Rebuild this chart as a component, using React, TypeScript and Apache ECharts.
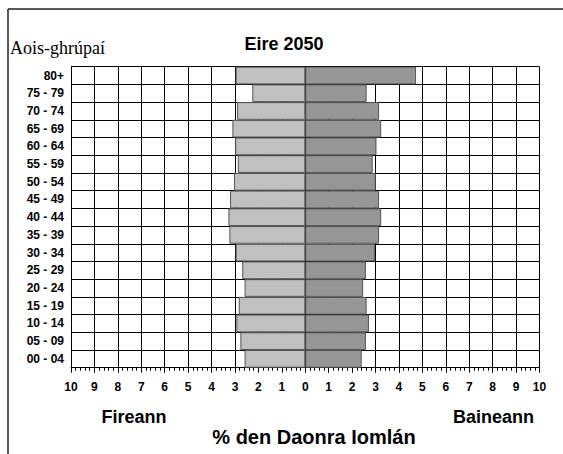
import React, { useEffect, useRef } from "react";
import * as echarts from "echarts";

const ageGroups = [
  "00 - 04", "05 - 09", "10 - 14", "15 - 19", "20 - 24", "25 - 29", "30 - 34",
  "35 - 39", "40 - 44", "45 - 49", "50 - 54", "55 - 59", "60 - 64", "65 - 69",
  "70 - 74", "75 - 79", "80+",
];
// % of total population, males (Fireann)
const male = [2.59, 2.77, 2.94, 2.84, 2.59, 2.69, 2.97, 3.24, 3.28, 3.21, 3.04, 2.88, 2.99, 3.11, 2.91, 2.26, 2.97];
// % of total population, females (Baineann)
const female = [2.41, 2.59, 2.72, 2.62, 2.47, 2.59, 2.97, 3.15, 3.24, 3.15, 3.01, 2.88, 3.04, 3.24, 3.15, 2.62, 4.73];

const SANS = "Arial, 'Liberation Sans', sans-serif";
const SERIF = "'Times New Roman', 'Liberation Serif', serif";

export default function App() {
  const ref = useRef<HTMLDivElement>(null);
  useEffect(() => {
    if (!ref.current) return;
    const chart = echarts.init(ref.current, undefined, { renderer: "svg" });
    chart.setOption({
      animation: false,
      backgroundColor: "#fff",
      grid: { left: 71, right: 23.5, top: 66.7, bottom: 86.3, containLabel: false },
      xAxis: {
        type: "value",
        min: -10,
        max: 10,
        interval: 1,
        axisLine: { show: true, lineStyle: { color: "#000", width: 1 } },
        axisTick: { show: true, inside: false, length: 5, lineStyle: { color: "#000" } },
        minorTick: { show: true, splitNumber: 5, length: 3, lineStyle: { color: "#000" } },
        splitLine: { show: true, lineStyle: { color: "#000", width: 1 } },
        axisLabel: {
          formatter: (v: number) => String(Math.abs(v)),
          color: "#000",
          fontFamily: SANS,
          fontWeight: "bold",
          fontSize: 12,
          margin: 13,
        },
      },
      yAxis: {
        type: "category",
        data: ageGroups,
        boundaryGap: true,
        axisLine: { show: false },
        axisTick: { show: false },
        splitLine: { show: true, interval: 0, lineStyle: { color: "#000", width: 1 } },
        axisLabel: {
          interval: 0,
          color: "#000",
          fontFamily: SANS,
          fontWeight: "bold",
          fontSize: 12,
          margin: 7,
        },
      },
      series: [
        {
          name: "Fireann",
          type: "bar",
          stack: "pop",
          barCategoryGap: 0,
          data: male.map((v) => -v),
          itemStyle: { color: "#c0c0c0", borderColor: "#555", borderWidth: 1 },
        },
        {
          name: "Baineann",
          type: "bar",
          stack: "pop",
          barCategoryGap: 0,
          data: female,
          itemStyle: { color: "#969696", borderColor: "#555", borderWidth: 1 },
        },
      ],
      graphic: [
        { type: "line", shape: { x1: 8, y1: 9, x2: 563, y2: 9 }, style: { stroke: "#222", lineWidth: 1.5 } },
        { type: "line", shape: { x1: 8, y1: 9, x2: 8, y2: 454 }, style: { stroke: "#222", lineWidth: 1.5 } },
        {
          type: "text", x: 284, y: 44,
          style: { text: "Eire 2050", font: `bold 18px ${SANS}`, fill: "#000", textAlign: "center", textVerticalAlign: "middle" },
        },
        {
          type: "text", x: 10, y: 48,
          style: { text: "Aois-ghrúpaí", font: `18px ${SERIF}`, fill: "#000", textAlign: "left", textVerticalAlign: "middle" },
        },
        {
          type: "text", x: 134, y: 417,
          style: { text: "Fireann", font: `bold 18px ${SANS}`, fill: "#000", textAlign: "center", textVerticalAlign: "middle" },
        },
        {
          type: "text", x: 493.5, y: 417,
          style: { text: "Baineann", font: `bold 18px ${SANS}`, fill: "#000", textAlign: "center", textVerticalAlign: "middle" },
        },
        {
          type: "text", x: 314, y: 437,
          style: { text: "% den Daonra Iomlán", font: `bold 20px ${SANS}`, fill: "#000", textAlign: "center", textVerticalAlign: "middle" },
        },
      ],
    });
    return () => chart.dispose();
  }, []);
  return <div ref={ref} style={{ position: "absolute", left: 0, top: 0, width: 563, height: 454 }} />;
}
